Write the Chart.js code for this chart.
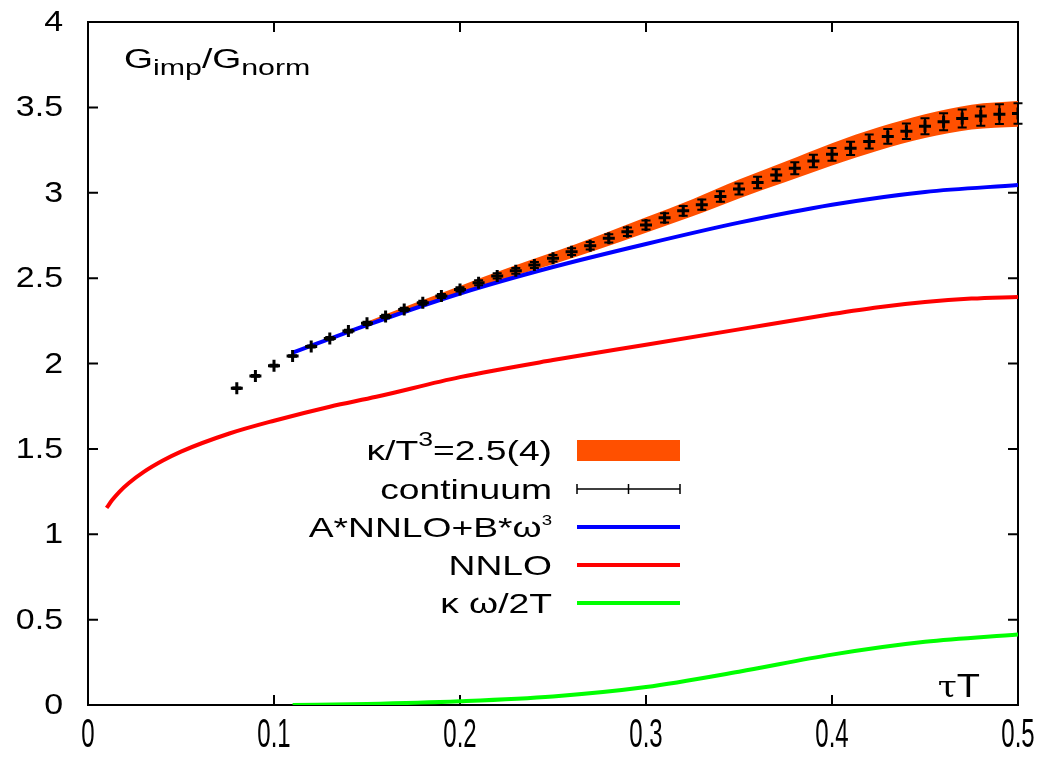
<!DOCTYPE html>
<html>
<head>
<meta charset="utf-8">
<script src="https://cdn.jsdelivr.net/npm/chart.js@4.4.0/dist/chart.umd.min.js"></script>
<style>
  body { margin: 0; background: #fff; }
  #wrap { width: 1050px; height: 762px; }
</style>
</head>
<body>
<div id="wrap"><canvas id="myChart" width="1050" height="762"></canvas></div>
<script>
// continuum extrapolated lattice data (tau*T, G/Gnorm, error)
var tauCont = [0.08, 0.09, 0.10, 0.11, 0.12, 0.13, 0.14, 0.15, 0.16, 0.17, 0.18, 0.19, 0.20, 0.21,
  0.22, 0.23, 0.24, 0.25, 0.26, 0.27, 0.28, 0.29, 0.30, 0.31, 0.32, 0.33, 0.34, 0.35, 0.36, 0.37,
  0.38, 0.39, 0.40, 0.41, 0.42, 0.43, 0.44, 0.45, 0.46, 0.47, 0.48, 0.49, 0.50];
var gCont = [1.855, 1.927, 1.987, 2.044, 2.100, 2.147, 2.190, 2.235, 2.275, 2.316, 2.356, 2.395, 2.434, 2.473,
  2.513, 2.543, 2.577, 2.616, 2.655, 2.690, 2.733, 2.772, 2.811, 2.853, 2.894, 2.930, 2.978, 3.022, 3.060, 3.104,
  3.143, 3.186, 3.225, 3.260, 3.300, 3.330, 3.360, 3.390, 3.416, 3.435, 3.449, 3.460, 3.464];
var gErr = [0.005, 0.005, 0.005, 0.005, 0.006, 0.008, 0.008, 0.009, 0.010, 0.010, 0.012, 0.012, 0.013, 0.014,
  0.015, 0.017, 0.018, 0.019, 0.020, 0.022, 0.024, 0.025, 0.026, 0.027, 0.028, 0.030, 0.031, 0.032, 0.033, 0.034,
  0.035, 0.036, 0.037, 0.039, 0.041, 0.043, 0.045, 0.047, 0.050, 0.053, 0.056, 0.058, 0.060];

// kappa/T^3 = 2.5(4) band
var bandTau = [0.15, 0.175, 0.20, 0.225, 0.25, 0.275, 0.30, 0.325, 0.35, 0.375, 0.40, 0.425, 0.45, 0.475, 0.50];
var bandLow = [2.225, 2.321, 2.414, 2.500, 2.581, 2.671, 2.766, 2.862, 2.967, 3.063, 3.160, 3.247, 3.320, 3.370, 3.387];
var bandHigh = [2.245, 2.351, 2.454, 2.556, 2.651, 2.751, 2.856, 2.962, 3.077, 3.183, 3.290, 3.383, 3.460, 3.516, 3.537];

// A*NNLO+B*omega^3
var fitTau = [0.11, 0.15, 0.20, 0.25, 0.30, 0.35, 0.40, 0.45, 0.50];
var fitVals = [2.063, 2.225, 2.410, 2.565, 2.700, 2.825, 2.930, 3.005, 3.045];

// NNLO
var nnloTau = [0.01, 0.013, 0.017, 0.022, 0.03, 0.04, 0.05, 0.076, 0.10, 0.13, 0.155, 0.20, 0.25, 0.30, 0.35, 0.40, 0.425, 0.45, 0.475, 0.50];
var nnloVals = [1.154, 1.20, 1.25, 1.30, 1.365, 1.43, 1.484, 1.59, 1.665, 1.747, 1.805, 1.92, 2.02, 2.11, 2.20, 2.29, 2.33, 2.36, 2.38, 2.39];

// kappa omega / 2T
var kapTau = [0.11, 0.15, 0.20, 0.25, 0.30, 0.35, 0.40, 0.45, 0.50];
var kapVals = [0.0, 0.006, 0.022, 0.050, 0.105, 0.195, 0.295, 0.370, 0.413];

var xTickLabels = ["0", "0.1", "0.2", "0.3", "0.4", "0.5"];
var yTickLabels = ["0", "0.5", "1", "1.5", "2", "2.5", "3", "3.5", "4"];

var sans = '"Liberation Sans", Arial, sans-serif';

function pts(xs, ys) {
  return xs.map(function (x, i) { return { x: x, y: ys[i] }; });
}

// draw text pieces (with sub/superscripts), stretched by sx horizontally
function drawRich(ctx, parts, x, y, align, sx) {
  var total = 0;
  parts.forEach(function (p) {
    ctx.font = p.size + "px " + (p.family || sans);
    p.w = ctx.measureText(p.t).width;
    total += p.w;
  });
  var start = 0;
  if (align === "right") start = -total;
  if (align === "center") start = -total / 2;
  ctx.save();
  ctx.translate(x, y);
  ctx.scale(sx, 1);
  var cx = start;
  parts.forEach(function (p) {
    ctx.font = p.size + "px " + (p.family || sans);
    ctx.fillText(p.t, cx, p.dy || 0);
    cx += p.w;
  });
  ctx.restore();
}

// frame and inward ticks on all four sides, gnuplot style
var frame = {
  id: "frame",
  beforeDatasetsDraw: function (chart) {
    var ctx = chart.ctx, a = chart.chartArea;
    var xs = chart.scales.x, ys = chart.scales.y;
    ctx.save();
    ctx.strokeStyle = "#000";
    ctx.lineWidth = 2;
    ctx.strokeRect(a.left, a.top, a.right - a.left, a.bottom - a.top);
    ctx.beginPath();
    xs.ticks.forEach(function (t) {
      var px = xs.getPixelForValue(t.value);
      ctx.moveTo(px, a.bottom); ctx.lineTo(px, a.bottom - 10);
      ctx.moveTo(px, a.top); ctx.lineTo(px, a.top + 10);
    });
    ys.ticks.forEach(function (t) {
      var py = ys.getPixelForValue(t.value);
      ctx.moveTo(a.left, py); ctx.lineTo(a.left + 10, py);
      ctx.moveTo(a.right, py); ctx.lineTo(a.right - 10, py);
    });
    ctx.stroke();

    // tick labels
    ctx.fillStyle = "#000";
    ctx.textBaseline = "middle";
    xs.ticks.forEach(function (t, i) {
      drawRich(ctx, [{ t: xTickLabels[i], size: 40 }], xs.getPixelForValue(t.value), 736, "center", 0.6);
    });
    ys.ticks.forEach(function (t, i) {
      drawRich(ctx, [{ t: yTickLabels[i], size: 29 }], 63, ys.getPixelForValue(t.value) + 1, "right", 1.17);
    });
    ctx.restore();
  }
};

var errorBars = {
  id: "errorBars",
  afterDatasetsDraw: function (chart) {
    var ctx = chart.ctx, xs = chart.scales.x, ys = chart.scales.y;
    ctx.save();
    ctx.strokeStyle = "#000";
    ctx.lineWidth = 2;
    ctx.beginPath();
    for (var i = 0; i < tauCont.length; i++) {
      var px = xs.getPixelForValue(tauCont[i]);
      var top = ys.getPixelForValue(gCont[i] + gErr[i]);
      var bot = ys.getPixelForValue(gCont[i] - gErr[i]);
      ctx.moveTo(px, top); ctx.lineTo(px, bot);
      ctx.moveTo(px - 4.5, top); ctx.lineTo(px + 4.5, top);
      ctx.moveTo(px - 4.5, bot); ctx.lineTo(px + 4.5, bot);
    }
    ctx.stroke();
    ctx.restore();
  }
};

// key box and axis labels
var keyAndLabels = {
  id: "keyAndLabels",
  afterDraw: function (chart) {
    var ctx = chart.ctx;
    ctx.save();
    ctx.fillStyle = "#000";
    ctx.textBaseline = "alphabetic";

    // y label
    drawRich(ctx, [
      { t: "G", size: 27 },
      { t: "imp", size: 22, dy: 7 },
      { t: "/G", size: 27 },
      { t: "norm", size: 22, dy: 7 }
    ], 124, 68, "left", 1.38);

    // x label
    drawRich(ctx, [
      { t: "\u03c4", size: 30, family: '"DejaVu Serif", serif' },
      { t: "T", size: 33 }
    ], 980, 697, "right", 1.15);

    var keyRight = 552, sx0 = 577, sx1 = 680;
    var rows = [450, 489, 527, 565, 603];
    var labels = [
      [{ t: "\u03ba/T", size: 28 }, { t: "3", size: 20, dy: -14 }, { t: "=2.5(4)", size: 28 }],
      [{ t: "continuum", size: 28 }],
      [{ t: "A*NNLO+B*\u03c9", size: 28 }, { t: "3", size: 14, dy: -12 }],
      [{ t: "NNLO", size: 28 }],
      [{ t: "\u03ba \u03c9/2T", size: 28 }]
    ];
    labels.forEach(function (parts, i) {
      drawRich(ctx, parts, keyRight, rows[i] + 10, "right", 1.33);
    });

    // samples
    ctx.fillStyle = "#ff5000";
    ctx.fillRect(sx0, rows[0] - 10, sx1 - sx0, 21);
    ctx.strokeStyle = "#000";
    ctx.lineWidth = 1.5;
    ctx.beginPath();
    ctx.moveTo(sx0, rows[1]); ctx.lineTo(sx1, rows[1]);
    ctx.moveTo(sx0, rows[1] - 5); ctx.lineTo(sx0, rows[1] + 5);
    ctx.moveTo(sx1, rows[1] - 5); ctx.lineTo(sx1, rows[1] + 5);
    ctx.moveTo((sx0 + sx1) / 2, rows[1] - 5); ctx.lineTo((sx0 + sx1) / 2, rows[1] + 5);
    ctx.stroke();
    var cols = ["#0000ff", "#ff0000", "#00ff00"];
    ctx.lineWidth = 4;
    cols.forEach(function (c, i) {
      ctx.strokeStyle = c;
      ctx.beginPath();
      ctx.moveTo(sx0, rows[i + 2]); ctx.lineTo(sx1, rows[i + 2]);
      ctx.stroke();
    });
    ctx.restore();
  }
};

var chart = new Chart("myChart", {
  type: "scatter",
  data: {
    datasets: [
      {
        label: "continuum",
        data: pts(tauCont, gCont),
        pointStyle: "cross",
        pointRadius: 6,
        borderWidth: 3,
        borderColor: "#000",
        backgroundColor: "#000",
        showLine: false,
        order: 0
      },
      {
        label: "A*NNLO+B*w3",
        type: "line",
        data: pts(fitTau, fitVals),
        borderColor: "#0000ff",
        borderWidth: 4,
        pointRadius: 0,
        fill: false,
        cubicInterpolationMode: "monotone",
        order: 1
      },
      {
        label: "NNLO",
        type: "line",
        data: pts(nnloTau, nnloVals),
        borderColor: "#ff0000",
        borderWidth: 4,
        pointRadius: 0,
        fill: false,
        cubicInterpolationMode: "monotone",
        order: 2
      },
      {
        label: "kappa w/2T",
        type: "line",
        data: pts(kapTau, kapVals),
        borderColor: "#00ff00",
        borderWidth: 4,
        pointRadius: 0,
        fill: false,
        cubicInterpolationMode: "monotone",
        order: 3
      },
      {
        label: "band high",
        type: "line",
        data: pts(bandTau, bandHigh),
        borderWidth: 0,
        borderColor: "#ff5000",
        backgroundColor: "#ff5000",
        pointRadius: 0,
        fill: "+1",
        cubicInterpolationMode: "monotone",
        order: 4
      },
      {
        label: "band low",
        type: "line",
        data: pts(bandTau, bandLow),
        borderWidth: 0,
        borderColor: "#ff5000",
        pointRadius: 0,
        fill: false,
        cubicInterpolationMode: "monotone",
        order: 5
      }
    ]
  },
  options: {
    responsive: false,
    animation: false,
    layout: { padding: { top: 22, right: 32, left: 0, bottom: 0 } },
    plugins: {
      legend: { display: false },
      tooltip: { enabled: false }
    },
    scales: {
      x: {
        type: "linear",
        min: 0,
        max: 0.5,
        grid: { display: false, drawTicks: false },
        border: { display: false },
        ticks: { stepSize: 0.1, autoSkip: false, display: false },
        afterFit: function (scale) { scale.height = 57; }
      },
      y: {
        min: 0,
        max: 4,
        grid: { display: false, drawTicks: false },
        border: { display: false },
        ticks: { stepSize: 0.5, display: false },
        afterFit: function (scale) { scale.width = 88; }
      }
    }
  },
  plugins: [frame, errorBars, keyAndLabels]
});
</script>
</body>
</html>
